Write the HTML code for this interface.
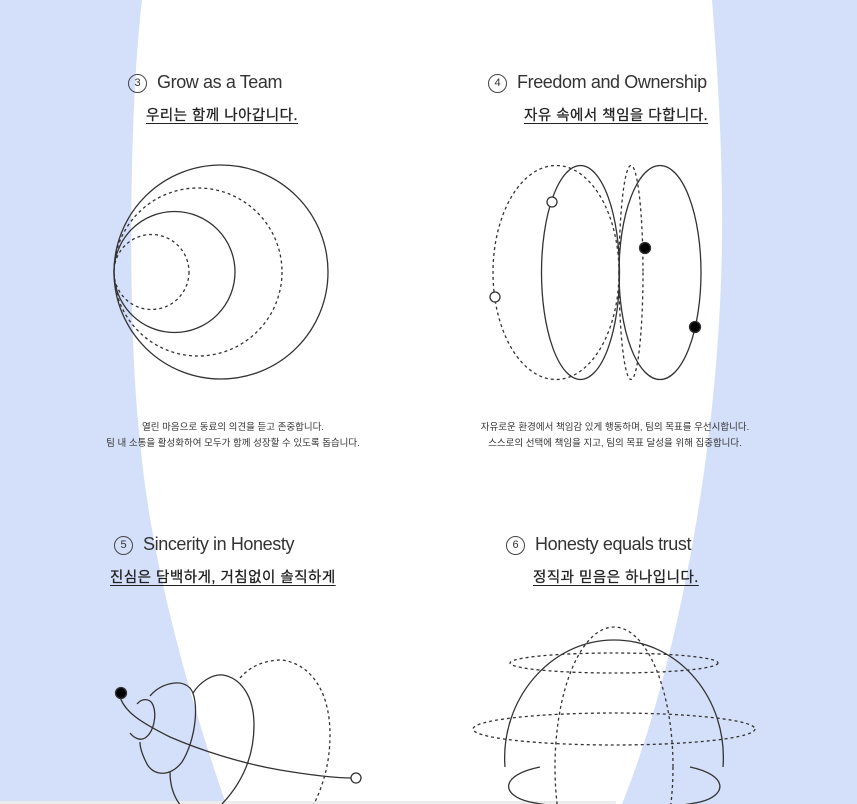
<!DOCTYPE html>
<html><head><meta charset="utf-8"><style>
html,body{margin:0;padding:0;}
body{width:857px;height:804px;overflow:hidden;position:relative;background:#d4dffa;font-family:"Liberation Sans","Noto Sans CJK KR",sans-serif;color:#222;}
svg{position:absolute;left:0;top:0;}
.t{position:absolute;font-size:18px;color:#333;white-space:nowrap;letter-spacing:-0.4px;}
.n{display:inline-block;width:17px;height:17px;border:1px solid #444;border-radius:50%;font-size:11px;text-align:center;line-height:17px;vertical-align:2px;margin-right:10px;letter-spacing:0;}
.k{position:absolute;font-size:14.5px;text-decoration:underline;text-underline-offset:3px;white-space:nowrap;color:#222;letter-spacing:0.5px;-webkit-text-stroke:0.3px #222;}
.d{position:absolute;font-size:9.5px;line-height:16px;text-align:center;white-space:nowrap;color:#333;}
</style></head><body>
<svg width="857" height="804" viewBox="0 0 857 804">
<path d="M142 0 C128 120 128 340 140 440 C150 560 190 700 226 804 L622 804 C680 660 725 420 722 200 C721 120 716 50 712 0 Z" fill="#fff"/>
<rect x="0" y="801" width="616" height="3" fill="#ececec"/>
<g fill="none" stroke="#333" stroke-width="1.3">
<circle cx="221" cy="272" r="107"/>
<circle cx="198" cy="272" r="84" stroke-dasharray="3 3"/>
<circle cx="174.5" cy="272" r="60.5"/>
<circle cx="151.5" cy="272" r="37.5" stroke-dasharray="3 3"/>
<ellipse cx="556" cy="272.5" rx="63" ry="107" stroke-dasharray="3 3"/>
<ellipse cx="580.5" cy="272.5" rx="39" ry="107"/>
<ellipse cx="631" cy="272.5" rx="12" ry="107" stroke-dasharray="3 3"/>
<ellipse cx="660" cy="272.5" rx="41" ry="107"/>
<path d="M120 697 C125 712 140 722 170 737 C200 750 240 763 280 770 C310 775 335 778 352 778"/>
<path d="M137 704 C142 698 150 698 153 705 C157 715 154 732 145 738 C140 741 134 738 130 733"/>
<path d="M150 696 C160 684 180 678 190 688 C200 700 196 740 182 762 C170 778 152 776 146 762 C141 752 140 745 140 742"/>
<path d="M193 693 C200 682 212 674 223 675 C240 678 254 695 254 725 C254 760 240 785 222 804"/>
<path d="M170 772 C170 785 173 796 181 806"/>
<path d="M240 678 C252 664 268 660 282 660 C310 664 330 690 330 735 C330 765 322 788 313 806" stroke-dasharray="3 3"/>
<path d="M505 767 C500 700 550 640 614 640 C680 640 728 700 723 767"/>
<ellipse cx="614" cy="767" rx="59" ry="140" stroke-dasharray="3 3"/>
<ellipse cx="614" cy="663" rx="104" ry="10" stroke-dasharray="3 3"/>
<ellipse cx="614" cy="729" rx="141" ry="16" stroke-dasharray="3 3"/>
<path d="M540 767 C500 775 500 795 530 802 C580 812 650 812 700 802 C728 795 728 775 690 767"/>
</g>
<g stroke="#333" stroke-width="1.3">
<circle cx="552" cy="202" r="5" fill="#fff"/>
<circle cx="495" cy="297" r="5" fill="#fff"/>
<circle cx="645" cy="248" r="5.5" fill="#000"/>
<circle cx="695" cy="327" r="5.5" fill="#000"/>
<circle cx="121" cy="693" r="5.5" fill="#000"/>
<circle cx="356" cy="778" r="5" fill="#fff"/>
</g>
</svg>
<div class="t" style="left:128px;top:72px"><span class="n">3</span>Grow as a Team</div>
<div class="k" style="left:146px;top:104px">우리는 함께 나아갑니다.</div>
<div class="t" style="left:488px;top:72px"><span class="n">4</span>Freedom and Ownership</div>
<div class="k" style="left:524px;top:104px">자유 속에서 책임을 다합니다.</div>
<div class="d" style="left:83px;top:420px;width:300px">열린 마음으로 동료의 의견을 듣고 존중합니다.<br>팀 내 소통을 활성화하여 모두가 함께 성장할 수 있도록 돕습니다.</div>
<div class="d" style="left:465px;top:420px;width:300px">자유로운 환경에서 책임감 있게 행동하며, 팀의 목표를 우선시합니다.<br>스스로의 선택에 책임을 지고, 팀의 목표 달성을 위해 집중합니다.</div>
<div class="t" style="left:114px;top:534px"><span class="n">5</span>Sincerity in Honesty</div>
<div class="k" style="left:110px;top:566px">진심은 담백하게, 거침없이 솔직하게</div>
<div class="t" style="left:506px;top:534px"><span class="n">6</span>Honesty equals trust</div>
<div class="k" style="left:533px;top:566px">정직과 믿음은 하나입니다.</div>
</body></html>
